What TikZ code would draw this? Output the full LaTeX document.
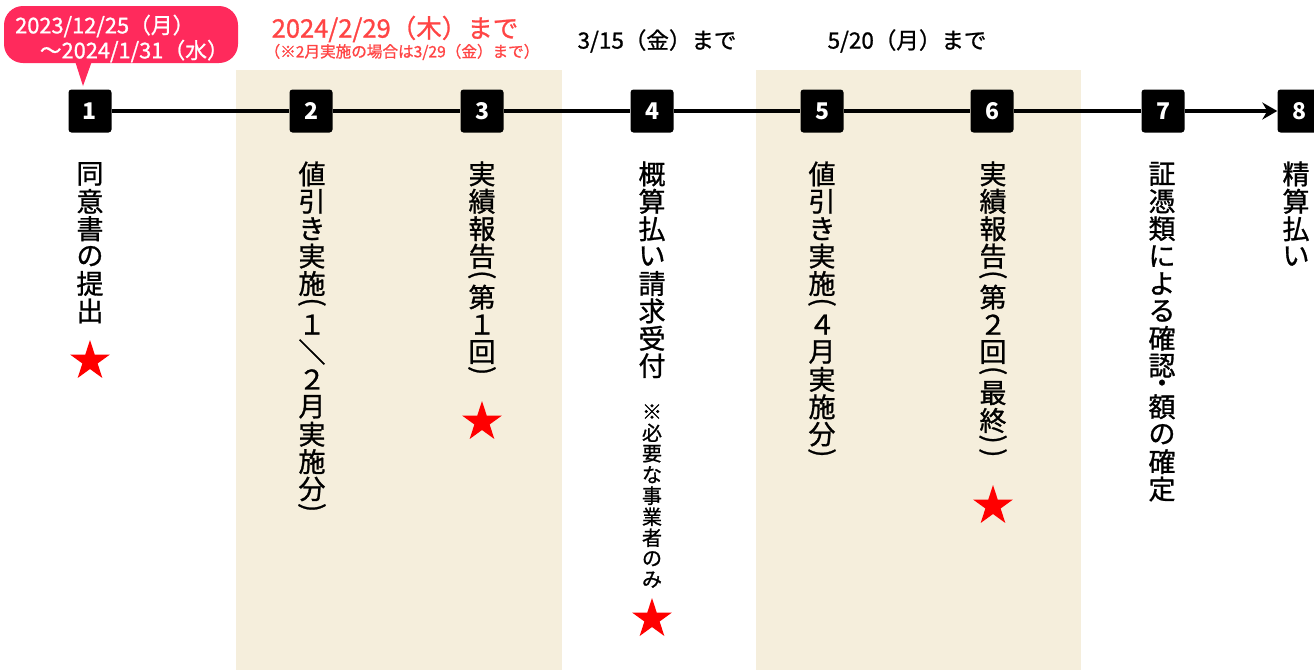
\documentclass[tikz,border=0pt]{standalone}
\usepackage{fontspec}
\usepackage{graphicx}
\setmainfont{Noto Sans CJK JP}
\newfontfamily\mfont[FakeBold=1.0]{Noto Sans CJK JP}
\usetikzlibrary{arrows.meta,shapes.geometric}
\definecolor{band}{HTML}{F5EEDC}
\definecolor{callout}{HTML}{FF2A5C}
\definecolor{redtxt}{HTML}{FF4545}
\newlength\vcell
\setlength\vcell{27.4pt}
\newcommand\rslash{\rotatebox[origin=c]{90}{／}}
\newcommand\vF[1]{\vbox to \vcell{\vss\hbox to 34pt{\hss#1\hss}\vss}}
\newcommand\vHf[1]{\vbox to 0.5\vcell{\vss\hbox to 34pt{\hss#1\hss}\vss}}
\def\vcol#1{\vbox{\offinterlineskip\vloop#1\relax}}
\def\vloop#1{\ifx\relax#1\else\vchar{#1}\expandafter\vloop\fi}
\def\vchar#1{\ifx(#1\vHf{\rotatebox[origin=c]{-90}{(}}\else\ifx)#1\vHf{\rotatebox[origin=c]{-90}{)}}\else\ifx・#1\vHf{・}\else\vF{#1}\fi\fi\fi}
\tikzset{
  stepbox/.style={fill=black, rounded corners=3pt, minimum width=43pt, minimum height=43pt, inner sep=0pt, text=white, font=\fontsize{23}{23}\selectfont\bfseries},
  tl/.style={line width=4pt, black},
  vtxt/.style={anchor=north, inner sep=0pt, font=\fontsize{27}{27}\selectfont\mfont},
  redstar/.style={star, star points=5, star point ratio=2.618, fill=red, minimum size=42pt, inner sep=0pt},
  datetxt/.style={font=\fontsize{22.5}{22.5}\selectfont\mfont, inner sep=0pt},
}
\begin{document}
\begin{tikzpicture}[x=1pt,y=-1pt]
\useasboundingbox (0,0) rectangle (1314,670);
% bands
\fill[band] (236,70) rectangle (562,670);
\fill[band] (756,70) rectangle (1081,670);
% callout
\fill[callout, rounded corners=19pt] (4,6) rectangle (238,63);
\fill[callout] (75,61) -- (83,86) -- (92,61) -- cycle;
\node[anchor=west, text=white, font=\fontsize{21.8}{21.8}\selectfont\mfont, inner sep=0pt] (c1) at (15,26) {2023/12/25（月）};
\node[anchor=east, text=white, font=\fontsize{21.8}{21.8}\selectfont\mfont, inner sep=0pt] (c2) at (229,51) {～2024/1/31（水）};
% top dates
\node[text=redtxt, font=\fontsize{25.5}{25.5}\selectfont\mfont, inner sep=0pt] (d1) at (395,29) {2024/2/29（木）まで};
\node[text=redtxt, font=\fontsize{15.6}{15.6}\selectfont\mfont, inner sep=0pt] (d1b) at (402,52) {（※2月実施の場合は3/29（金）まで）};
\node[datetxt] (d2) at (657,41) {3/15（金）まで};
\node[datetxt] (d3) at (907,41) {5/20（月）まで};
% step boxes
\node[stepbox] (n1) at (90,111) {1};
\node[stepbox] (n2) at (311,111) {2};
\node[stepbox] (n3) at (482,111) {3};
\node[stepbox] (n4) at (652,111) {4};
\node[stepbox] (n5) at (822,111) {5};
\node[stepbox] (n6) at (992,111) {6};
\node[stepbox] (n7) at (1163,111) {7};
\node[stepbox] (n8) at (1299,111) {8};
\draw[tl] (n1) -- (n2);
\draw[tl] (n2) -- (n3);
\draw[tl] (n3) -- (n4);
\draw[tl] (n4) -- (n5);
\draw[tl] (n5) -- (n6);
\draw[tl] (n6) -- (n7);
\draw[tl, -{Stealth[length=15pt,width=17pt,inset=5pt]}] (n7) -- (n8);
% vertical texts
\node[vtxt] (t1) at (90,160) {\vcol{同意書の提出}};
\node[vtxt] (t2) at (312,160) {\vcol{値引き実施(１\rslash ２月実施分)}};
\node[vtxt] (t3) at (482,160) {\vcol{実績報告(第１回)}};
\node[vtxt] (t4) at (652,160) {\vcol{概算払い請求受付}};
\node[vtxt, font=\fontsize{20}{20}\selectfont\mfont] (t4b) at (652,401) {\setlength\vcell{21pt}\vcol{※必要な事業者のみ}};
\node[vtxt] (t5) at (822,160) {\vcol{値引き実施(４月実施分)}};
\node[vtxt] (t6) at (993,160) {\vcol{実績報告(第２回(最終))}};
\node[vtxt] (t7) at (1162,160) {\vcol{証憑類による確認・額の確定}};
\node[vtxt] (t8) at (1296,160) {\vcol{精算払い}};
% stars
\node[redstar] (s1) at (90,361) {};
\node[redstar] (s3) at (482,422) {};
\node[redstar] (s4) at (652,619) {};
\node[redstar] (s6) at (993,506) {};
\end{tikzpicture}
\end{document}
